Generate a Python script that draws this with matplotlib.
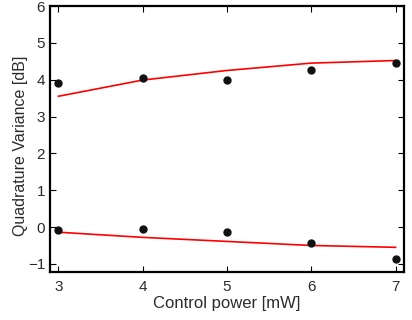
import matplotlib
matplotlib.use("Agg")
import matplotlib.pyplot as plt

plt.rcParams['font.family'] = ['Liberation Sans', 'DejaVu Sans']

power = [3, 4, 5, 6, 7]
upper_pts = [3.92, 4.04, 3.98, 4.25, 4.46]
lower_pts = [-0.09, -0.06, -0.13, -0.44, -0.86]
upper_fit = [3.55, 3.99, 4.25, 4.45, 4.52]
lower_fit = [-0.14, -0.28, -0.39, -0.50, -0.55]

txt = '#2b2b2b'

fig = plt.figure(figsize=(4.12, 3.2), dpi=100)
ax = fig.add_axes([50/412, 48/320, 354/412, 266/320])

ax.plot(power, upper_fit, color='red', lw=1.2)
ax.plot(power, lower_fit, color='red', lw=1.2)
ax.plot(power, upper_pts, 'o', color='#111111', ms=5)
ax.plot(power, lower_pts, 'o', color='#111111', ms=5)

ax.set_xlim(2.9, 7.1)
ax.set_ylim(-1.22, 6)
ax.set_xticks(power)
ax.set_yticks(range(-1, 7))
ax.tick_params(direction='in', top=True, right=True, labelsize=11, length=4, width=0.8,
               labelcolor=txt)
ax.tick_params(axis='x', pad=6)
ax.tick_params(axis='y', pad=3.5)
for s in ax.spines.values():
    s.set_linewidth(1.6)

ax.set_xlabel('Control power [mW]', fontsize=12, labelpad=1, color=txt)
ax.set_ylabel('Quadrature Variance [dB]', fontsize=11.5, labelpad=0, color=txt)
ax.yaxis.label.set_y(0.474)

fig.savefig('out.png', dpi=100)
